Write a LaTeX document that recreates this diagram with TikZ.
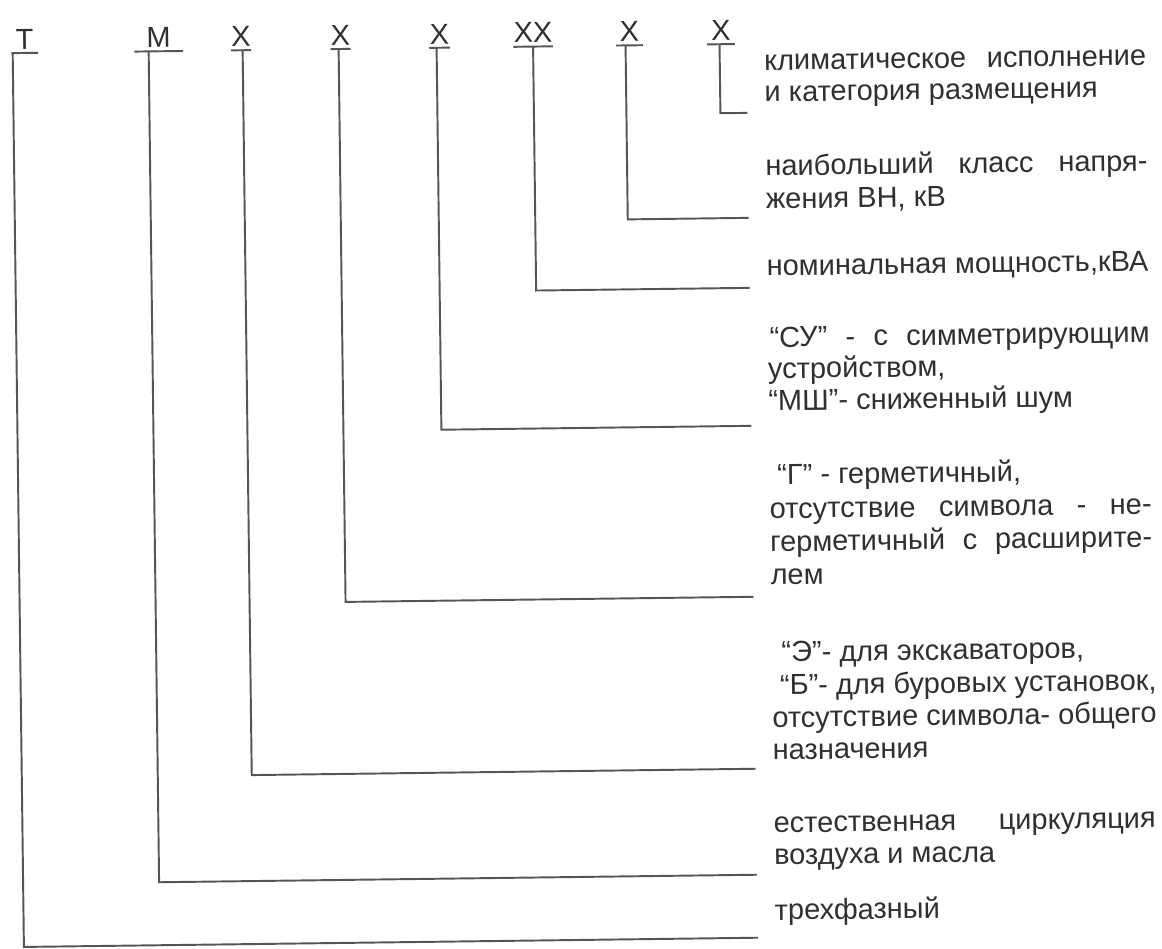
\documentclass[tikz,border=0pt]{standalone}
\usepackage{fontspec}
\setmainfont{Liberation Sans}
\definecolor{ink}{RGB}{48,48,48}
\definecolor{wire}{RGB}{85,85,85}
\tikzset{
  ln/.style={draw=wire, line width=1.1pt},
  code/.style={inner xsep=0pt, inner ysep=2pt, text depth=0pt, anchor=south,
    font=\fontsize{16.5}{19}\selectfont, text=ink},
  txt/.style={anchor=base west, inner sep=0pt,
    font=\fontsize{16.5}{19}\selectfont, text=ink},
}
\newcommand{\jline}[1]{\makebox[7.64cm][s]{#1}}
\begin{document}
\begin{tikzpicture}[x=0.02cm, y=-0.02cm]
\fill[white] (0,0) rectangle (1162,949);
\useasboundingbox (0,0) rectangle (1162,949);
\begin{scope}[rotate around={0.72:(581,474.5)}, transform shape]
% code letters
\node[code, minimum width=0.52cm] (lT)  at (30,46)    {Т};
\node[code, minimum width=0.96cm] (lM)  at (164,46)   {М};
\node[code, minimum width=0.38cm] (lX1) at (246.5,46) {Х};
\node[code, minimum width=0.36cm] (lX2) at (346,46)   {Х};
\node[code, minimum width=0.40cm] (lX3) at (445,46)   {Х};
\node[code, minimum width=0.74cm] (lXX) at (538.5,46) {ХХ};
\node[code, minimum width=0.52cm] (lX5) at (635,46)   {Х};
\node[code, minimum width=0.54cm] (lX6) at (726.5,46) {Х};
\foreach \n in {lT,lM,lX1,lX2,lX3,lXX,lX5,lX6}
  \draw[ln] (\n.south west) -- (\n.south east);
% texts
\node[txt] (k1) at (769,72.5) {\jline{климатическое исполнение}};
\node[txt] (k2) at (769,104) {и категория размещения};
\node[txt] (v1) at (769,178) {\jline{наибольший класс напря-}};
\node[txt] (v2) at (769,211) {жения ВН, кВ};
\node[txt] (p1) at (769,278) {номинальная мощность,кВА};
\node[txt] (s1) at (771,349.5) {\makebox[7.6cm][s]{“СУ” - с симметрирующим}};
\node[txt] (s2) at (769,381) {устройством,};
\node[txt] (s3) at (769,413) {“МШ”- сниженный шум};
\node[txt] (g1) at (777,487) {“Г” - герметичный,};
\node[txt] (g2) at (769,521) {\jline{отсутствие символа - не-}};
\node[txt] (g3) at (769,554) {\jline{герметичный с расширите-}};
\node[txt] (g4) at (769,587) {лем};
\node[txt] (e1) at (779,664.5) {“Э”- для экскаваторов,};
\node[txt] (e2) at (777,697.5) {“Б”- для буровых установок,};
\node[txt] (e3) at (769,730) {отсутствие символа- общего};
\node[txt] (e4) at (769,762) {назначения};
\node[txt] (m1) at (769,835) {\jline{естественная циркуляция}};
\node[txt] (m2) at (769,867) {воздуха и масла};
\node[txt] (t1) at (769,922.5) {трехфазный};
% line ends
\coordinate (eX6) at (752,115);
\coordinate (eX5) at (752,220);
\coordinate (eXX) at (752,290);
\coordinate (eX3) at (752,428);
\coordinate (eX2) at (752,599);
\coordinate (eX1) at (752,771);
\coordinate (eM)  at (752,877);
\coordinate (eT)  at (752,940);
% connectors
\draw[ln] ([xshift=-0.24cm]lT.south) |- (eT);
\draw[ln] ([xshift=-0.20cm]lM.south) |- (eM);
\draw[ln] ([xshift=0.03cm]lX1.south) |- (eX1);
\draw[ln] ([xshift=-0.04cm]lX2.south) |- (eX2);
\draw[ln] ([xshift=-0.06cm]lX3.south) |- (eX3);
\draw[ln] (lXX.south) |- (eXX);
\draw[ln] ([xshift=-0.08cm]lX5.south) |- (eX5);
\draw[ln] ([xshift=-0.03cm]lX6.south) |- (eX6);
\end{scope}
\end{tikzpicture}
\end{document}
